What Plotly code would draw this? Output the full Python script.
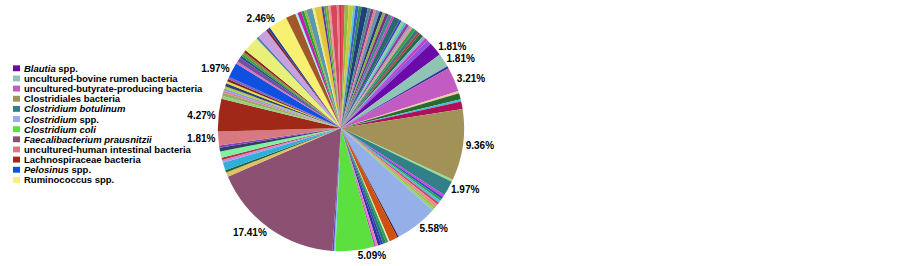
import plotly.graph_objects as go

# ---------------- data ----------------
# Named taxa (shown in legend and labelled with their share, %)
legend_names = [
    "Blautia spp.",
    "uncultured-bovine rumen bacteria",
    "uncultured-butyrate-producing bacteria",
    "Clostridiales bacteria",
    "Clostridium botulinum",
    "Clostridium spp.",
    "Clostridium coli",
    "Faecalibacterium prausnitzii",
    "uncultured-human intestinal bacteria",
    "Lachnospiraceae bacteria",
    "Pelosinus spp.",
    "Ruminococcus spp.",
]
legend_display = [
    "<i>Blautia</i> spp.",
    "uncultured-bovine rumen bacteria",
    "uncultured-butyrate-producing bacteria",
    "Clostridiales bacteria",
    "<i>Clostridium botulinum</i>",
    "<i>Clostridium</i> spp.",
    "<i>Clostridium coli</i>",
    "<i>Faecalibacterium prausnitzii</i>",
    "uncultured-human intestinal bacteria",
    "Lachnospiraceae bacteria",
    "<i>Pelosinus</i> spp.",
    "Ruminococcus spp.",
]

# All slices, clockwise from 12 o'clock (values in %)
slice_names = (
    [f"other {i}" for i in range(1, 31)]
    + ["Blautia spp.", "uncultured-bovine rumen bacteria", "other 31",
       "uncultured-butyrate-producing bacteria",
       "other 32", "other 33", "other 34", "other 35",
       "Clostridiales bacteria", "other 36", "Clostridium botulinum"]
    + [f"other {i}" for i in range(37, 45)]
    + ["Clostridium spp."]
    + [f"other {i}" for i in range(45, 54)]
    + ["Clostridium coli", "other 54", "other 55", "Faecalibacterium prausnitzii"]
    + [f"other {i}" for i in range(56, 64)]
    + ["uncultured-human intestinal bacteria", "Lachnospiraceae bacteria"]
    + [f"other {i}" for i in range(64, 73)]
    + ["Pelosinus spp."]
    + [f"other {i}" for i in range(73, 79)]
    + ["other 79", "other 80", "other 81", "other 82", "other 83",
       "Ruminococcus spp.", "other 84"]
    + [f"other {i}" for i in range(85, 99)]
)
slice_values = (
    [0.5, 0.5, 0.6, 0.3, 0.4, 0.4, 0.8, 0.4, 0.4, 0.3,
     0.5, 0.4, 0.4, 0.4, 0.5, 0.3, 0.8, 0.3, 0.4, 0.3,
     0.4, 0.3, 0.3, 0.4, 0.5, 0.3, 0.5, 0.4, 0.4, 0.6]
    + [1.81, 1.81, 0.3, 3.21,
       0.3, 0.8, 0.3, 1.0,
       9.36, 0.3, 1.97]
    + [0.3, 0.3, 0.3, 0.3, 0.3, 0.4, 0.3, 0.3]
    + [5.58]
    + [0.2, 1.1, 0.2, 0.3, 0.4, 0.3, 0.4, 0.3, 0.2]
    + [5.09, 0.2, 0.2, 17.41]
    + [0.6, 0.3, 1.0, 0.4, 0.3, 0.8, 0.5, 0.3]
    + [1.81, 4.27]
    + [0.4, 0.4, 0.3, 0.3, 0.3, 0.4, 0.3, 0.3, 0.3]
    + [1.97]
    + [0.3, 0.6, 0.3, 0.3, 0.3, 0.3]
    + [2.1, 0.3, 1.3, 0.3, 0.3,
       2.46, 1.3]
    + [0.3, 0.5, 0.4, 0.3, 0.8, 0.3, 0.9, 0.3, 0.3, 0.3, 0.3, 0.8, 0.3, 0.25]
)
slice_colors = (
    ['#d94f5c', '#8fbc3f', '#c8c840', '#5bc8d6', '#3a5fcd', '#2e8b57', '#1f3f7a', '#4a8a8a', '#8b3a8b', '#e08080',
     '#7090b0', '#203a70', '#8db040', '#7b2d8b', '#3a8a8a', '#d040c0', '#2a6a6a', '#4040d0', '#90d090', '#40c0d0',
     '#9040a0', '#a0a0a0', '#e090b0', '#30a040', '#3a7a7a', '#c03040', '#1f6f3f', '#80b0e0', '#c040c0', '#9050e0']
    + ['#6a0aa8', '#8fc3b3', '#2a3a9a', '#c25cc2',
       '#f0c8a8', '#2a6a2a', '#40c0e0', '#b0105a',
       '#a39257', '#90e090', '#337f88']
    + ['#d040e0', '#3050c0', '#30a040', '#40c0e0', '#d04060', '#e09090', '#a0c040', '#90d080']
    + ['#95b0e8']
    + ['#402040', '#d05010', '#e0e0c0', '#30a040', '#208070', '#3040b0', '#3030a0', '#e080c0', '#c040c0']
    + ['#5ce040', '#80c0f0', '#6040c0', '#8b5072']
    + ['#e0c060', '#206040', '#30b0d8', '#c090e0', '#c03040', '#80f0a0', '#304060', '#8040c0']
    + ['#d87880', '#a02818']
    + ['#90d080', '#90b060', '#e080a0', '#80a0e0', '#b0d040', '#304080', '#e0e040', '#802020', '#8060c0']
    + ['#1050e0']
    + ['#e070b0', '#7050a0', '#2a4a8a', '#30a040', '#8a8a30', '#8a2020']
    + ['#e8f07a', '#5080b0', '#c8a0e0', '#802020', '#2040a0',
       '#f8f070', '#a0582a']
    + ['#a0f0f0', '#c020b0', '#20a030', '#a0b040', '#5a9aa8', '#f0e890', '#e0c838',
       '#7030a0', '#40b050', '#90a040', '#f090a0', '#d04a5a', '#e88090', '#d03040']
)

# ---------------- figure ----------------
W, H = 903, 266
named = set(legend_names)
texts = ["<b>%{value:.2f}%</b>" if n in named else "" for n in slice_names]
positions = ["outside" if n in named else "none" for n in slice_names]

fig = go.Figure()
fig.add_trace(go.Pie(
    values=slice_values,
    labels=slice_names,
    marker=dict(colors=slice_colors, line=dict(width=0)),
    sort=False,
    direction="clockwise",
    rotation=0,
    texttemplate=texts,
    textposition=positions,
    textfont=dict(family="Liberation Sans", size=10, color="black"),
    outsidetextfont=dict(family="Liberation Sans", size=10, color="black"),
    domain=dict(x=[216 / W, 466 / W], y=[1 - 253 / H, 1 - 3 / H]),
    showlegend=False,
    hoverinfo="label+percent",
))

color_of = dict(zip(slice_names, slice_colors))
shapes, annotations = [], []
y0, dy = 67.3, 10.3
for i, (name, disp) in enumerate(zip(legend_names, legend_display)):
    yc = y0 + i * dy
    shapes.append(dict(type="rect", xref="paper", yref="paper",
                       x0=13 / W, x1=20 / W, y0=1 - (yc + 3) / H, y1=1 - (yc - 3) / H,
                       fillcolor=color_of[name], line=dict(width=0)))
    annotations.append(dict(xref="paper", yref="paper", x=22 / W, y=1 - yc / H,
                            xanchor="left", yanchor="middle", showarrow=False,
                            text=f"<b>{disp}</b>",
                            font=dict(family="Liberation Sans", size=9.5, color="black")))

fig.update_layout(
    width=W, height=H,
    margin=dict(l=0, r=0, t=0, b=0),
    paper_bgcolor="white", plot_bgcolor="white",
    showlegend=False,
    shapes=shapes, annotations=annotations,
)

fig.write_html("out.html",
               config={"displayModeBar": False},
               post_script="document.body.style.margin='0';document.body.style.overflow='hidden';")
